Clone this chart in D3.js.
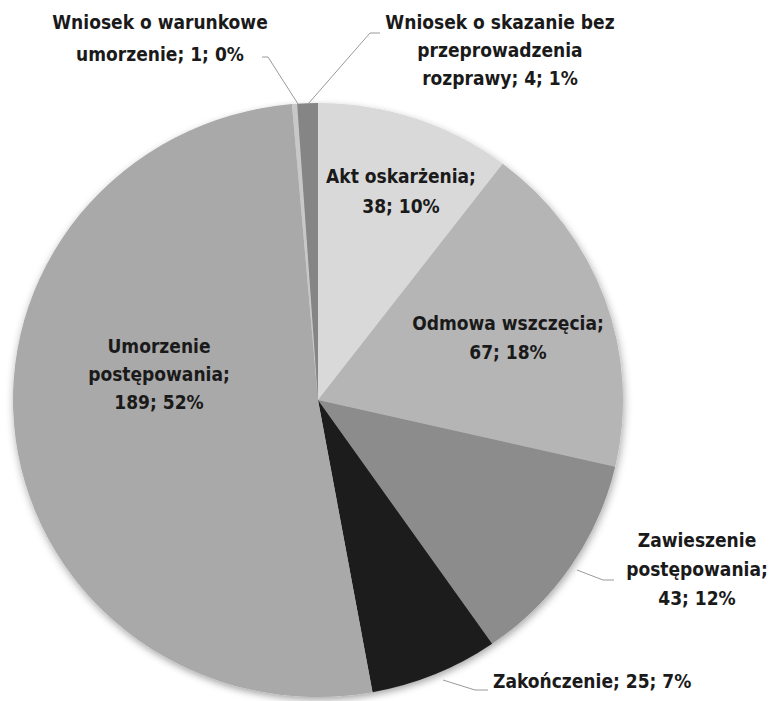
<!DOCTYPE html>
<html>
<head>
<meta charset="utf-8">
<script src="https://cdn.jsdelivr.net/npm/d3@7"></script>
<style>
  body { margin: 0; background: #fff; }
  .lbl { font-family: "DejaVu Sans Condensed", "DejaVu Sans", sans-serif; font-stretch: condensed; font-weight: bold; font-size: 19px; fill: #1a1a1a; }
</style>
</head>
<body>
<div id="chart"></div>
<script>
// slice order, clockwise from 12 o'clock
var categories = ["Akt oskarżenia", "Odmowa wszczęcia", "Zawieszenie postępowania", "Zakończenie",
  "Umorzenie postępowania", "Wniosek o warunkowe umorzenie", "Wniosek o skazanie bez przeprowadzenia rozprawy"];
var values = [38, 67, 43, 25, 189, 1, 4];
var percents = ["10%", "18%", "12%", "7%", "52%", "0%", "1%"];
var labelLines = [
  ["Akt oskarżenia;", "38; 10%"],
  ["Odmowa wszczęcia;", "67; 18%"],
  ["Zawieszenie", "postępowania;", "43; 12%"],
  ["Zakończenie; 25; 7%"],
  ["Umorzenie", "postępowania;", "189; 52%"],
  ["Wniosek o warunkowe", "umorzenie; 1; 0%"],
  ["Wniosek o skazanie bez", "przeprowadzenia", "rozprawy; 4; 1%"]
];
var colors = ["#d9d9d9", "#b5b5b5", "#8c8c8c", "#1e1e1e", "#a9a9a9", "#c8c8c8", "#858585"];

var width = 771,
  height = 701,
  cx = 318,
  cy = 400,
  rx = 305,
  ry = 297;

// label placement: first baseline, anchor x, line step
var labelPos = [
  { x: 401, y: 183, step: 30, anchor: "middle" },
  { x: 508, y: 330, step: 29, anchor: "middle" },
  { x: 697, y: 547, step: 29, anchor: "middle" },
  { x: 493, y: 688, step: 29, anchor: "start" },
  { x: 159, y: 353, step: 28, anchor: "middle" },
  { x: 160, y: 29, step: 32, anchor: "middle" },
  { x: 500, y: 29, step: 28, anchor: "middle" }
];
var leaders = [
  null, null,
  [[577, 570], [603, 580], [614, 580]],
  [[443, 680], [475, 690], [488, 690]],
  null,
  [[298, 104], [268, 57], [262, 57]],
  [[308, 104], [370, 33], [380, 33]]
];

var svg = d3.select("#chart").append("svg")
  .attr("width", width)
  .attr("height", height);

var defs = svg.append("defs");
var shadow = defs.append("filter")
  .attr("id", "shadow")
  .attr("x", "-10%").attr("y", "-10%")
  .attr("width", "120%").attr("height", "120%");
shadow.append("feDropShadow")
  .attr("dx", 1).attr("dy", 3)
  .attr("stdDeviation", 4)
  .attr("flood-color", "#000")
  .attr("flood-opacity", 0.35);

var pie = d3.pie().sort(null).value(function(d) { return d; });
var arc = d3.arc().innerRadius(0).outerRadius(rx);

var g = svg.append("g")
  .attr("transform", "translate(" + cx + "," + cy + ") scale(1," + (ry / rx) + ")")
  .attr("filter", "url(#shadow)");

g.selectAll("path")
  .data(pie(values))
  .enter().append("path")
  .attr("d", arc)
  .attr("fill", function(d, i) { return colors[i]; });

var line = d3.line();
svg.append("g").selectAll("path")
  .data(leaders.filter(function(d) { return d; }))
  .enter().append("path")
  .attr("d", line)
  .attr("fill", "none")
  .attr("stroke", "#9a9a9a")
  .attr("stroke-width", 1);

var labels = svg.append("g").selectAll("text")
  .data(labelLines)
  .enter().append("text")
  .attr("class", "lbl")
  .attr("text-anchor", function(d, i) { return labelPos[i].anchor; });

labels.each(function(lines, i) {
  var p = labelPos[i];
  d3.select(this).selectAll("tspan")
    .data(lines)
    .enter().append("tspan")
    .attr("x", p.x)
    .attr("y", function(d, j) { return p.y + j * p.step; })
    .text(function(d) { return d; });
});
</script>
</body>
</html>
